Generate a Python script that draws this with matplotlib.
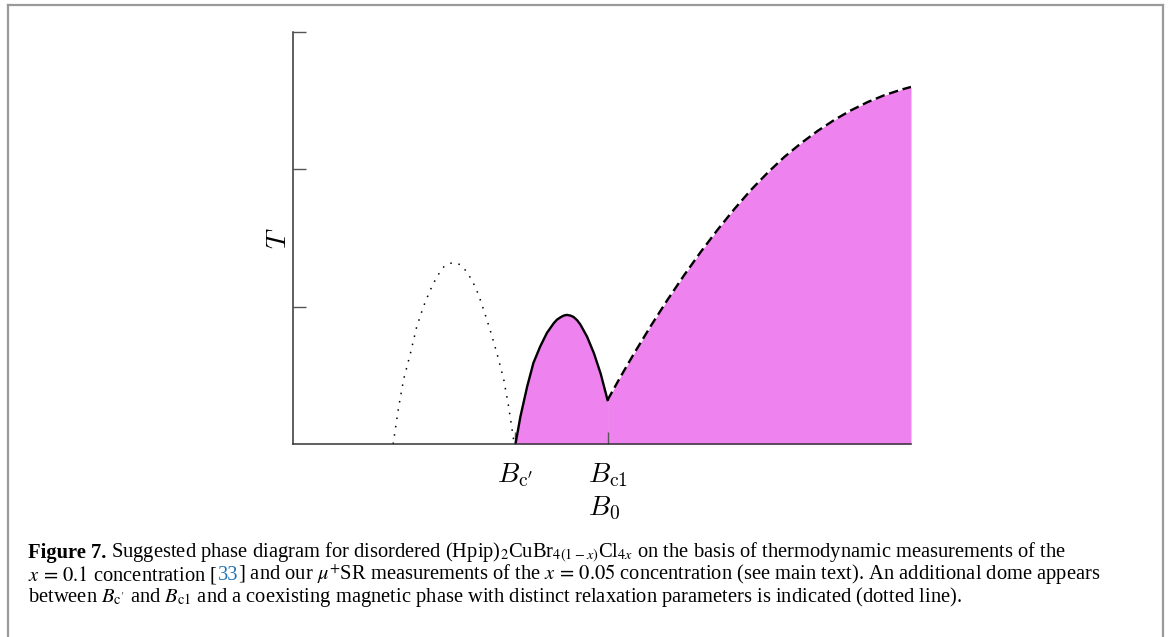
import matplotlib.pyplot as plt
from matplotlib.lines import Line2D
from matplotlib.transforms import IdentityTransform

# boundaries (field and temperature in arbitrary units)
dot_B = [1.62, 1.71, 1.79, 1.90, 2.00, 2.11, 2.22, 2.33, 2.44, 2.53, 2.62,
         2.71, 2.80, 2.90, 3.00, 3.09, 3.19, 3.30, 3.41, 3.49, 3.58]
dot_T = [0.00, 0.27, 0.47, 0.66, 0.85, 1.00, 1.12, 1.22, 1.29, 1.315, 1.32,
         1.305, 1.26, 1.19, 1.09, 0.97, 0.83, 0.66, 0.47, 0.27, 0.00]

dome_B = [3.60, 3.68, 3.79, 3.89, 4.00, 4.11, 4.22, 4.27, 4.33, 4.38, 4.43,
          4.49, 4.54, 4.60, 4.65, 4.76, 4.87, 4.98, 5.09]
dome_T = [0.00, 0.20, 0.42, 0.59, 0.71, 0.81, 0.88, 0.905, 0.923, 0.935, 0.94,
          0.935, 0.925, 0.90, 0.87, 0.78, 0.66, 0.51, 0.32]

high_B = [5.09, 5.30, 5.52, 5.79, 6.06, 6.33, 6.60, 6.87, 7.14, 7.41,
          7.69, 7.95, 8.22, 8.49, 8.76, 9.03, 9.30, 9.57, 9.84, 10.0]
high_T = [0.32, 0.49, 0.66, 0.86, 1.05, 1.23, 1.40, 1.56, 1.71, 1.85,
          1.98, 2.09, 2.19, 2.28, 2.36, 2.43, 2.49, 2.54, 2.58, 2.60]

tick_pos = [3.59, 5.09]
tick_txt = [r"$B_{\mathrm{c}'}$", "$B_{\\mathrm{c1}}$\n$B_0$"]

plt.rcParams['mathtext.fontset'] = 'cm'

fig = plt.figure(figsize=(11.7, 6.37), dpi=100)
W, H = 1170, 637
ax = fig.add_axes([293 / W, 193 / H, 618 / W, 412 / H])

pink = '#ee82ee'
ax.fill_between(dome_B, dome_T, color=pink, lw=0)
ax.fill_between(high_B, high_T, color=pink, lw=0)
ax.plot(dot_B, dot_T, color='k', lw=1.1, ls=(0, (1, 4.5)))
ax.plot(dome_B, dome_T, color='k', lw=1.7)
ax.plot(high_B, high_T, color='k', lw=1.7, ls=(0, (4, 2)))

ax.set_xlim(0, 10)
ax.set_ylim(0, 3)
ax.spines['top'].set_visible(False)
ax.spines['right'].set_visible(False)
for s in ['left', 'bottom']:
    ax.spines[s].set_linewidth(1.1)
    ax.spines[s].set_color('#333333')

ax.set_yticks([1, 2, 3])
ax.set_yticklabels([])
ax.set_xticks(tick_pos)
ax.set_xticklabels(tick_txt, fontsize=20)
for lab in ax.get_xticklabels():
    lab.set_multialignment('left')
ax.tick_params(direction='in', length=9, width=1, color='#555555')
ax.tick_params(axis='x', pad=12)
ax.set_ylabel('$T$', fontsize=20, labelpad=-3)

# grey frame round the figure (open at the bottom)
frame = dict(color='#9a9a9a', lw=1.6, transform=fig.transFigure)
fig.add_artist(Line2D([8 / W, 8 / W], [-0.01, 1 - 5 / H], **frame))
fig.add_artist(Line2D([8 / W, 1163 / W], [1 - 5 / H, 1 - 5 / H], **frame))
fig.add_artist(Line2D([1163 / W, 1163 / W], [-0.01, 1 - 5 / H], **frame))

# caption, written piece by piece (bold lead-in, blue reference number)
cap = dict(fontfamily='Liberation Serif', fontsize=14.8, math_fontfamily='stix',
           va='baseline', transform=IdentityTransform())
r = fig.canvas.get_renderer()


def put_line(pieces, x, y):
    for txt, extra, gap in pieces:
        kw = dict(cap)
        kw.update(extra)
        t = fig.text(x, H - y, txt, **kw)
        x += t.get_window_extent(r).width + gap


x0 = 28
put_line([("Figure 7.", dict(fontweight='bold'), 5),
          ("Suggested phase diagram for disordered (Hpip)$_2$CuBr$_{4(1-x)}$Cl$_{4x}$"
           " on the basis of thermodynamic measurements of the", {}, 0)], x0, 558)
put_line([("$x\\,=\\,0.1$ concentration [", {}, 0),
          ("33", dict(color='#1f74b6'), -1),
          ("] and our $\\mu^{+}$SR measurements of the $x\\,=\\,0.05$ concentration"
           " (see main text). An additional dome appears", {}, 0)], x0, 580)
put_line([("between $B_{\\mathrm{c}'}$ and $B_{\\mathrm{c1}}$ and a coexisting magnetic"
           " phase with distinct relaxation parameters is indicated (dotted line).", {}, 0)],
         x0, 602)

fig.savefig('out.png', dpi=100)
